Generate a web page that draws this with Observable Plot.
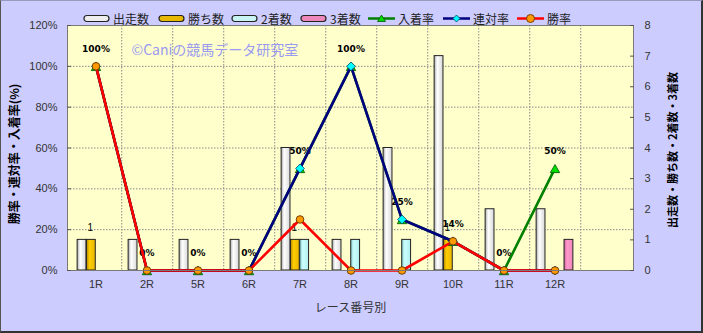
<!DOCTYPE html>
<html><head><meta charset="utf-8">
<script src="https://cdn.jsdelivr.net/npm/d3@7"></script>
<script src="https://cdn.jsdelivr.net/npm/@observablehq/plot@0.6"></script>
<style>
html,body{margin:0;padding:0;background:#ccccff;}
#wrap{position:relative;width:703px;height:333px;background:#ccccff;overflow:hidden;font-family:"Noto Sans CJK JP","Liberation Sans",sans-serif;}
#wrap svg.plot{position:absolute;left:0;top:0;}
#legend{position:absolute;left:0;top:9px;height:18px;width:703px;font-size:12px;color:#222;}
#legend .item{position:absolute;top:0;display:flex;align-items:center;height:18px;}
#legend .item span{margin-left:3px;}
#border{position:absolute;left:0;top:0;width:703px;height:333px;box-sizing:border-box;border-left:1px solid #555;border-top:1px solid #9999bb;border-right:2px solid #333;border-bottom:2px solid #333;pointer-events:none;}
</style></head>
<body>
<div id="wrap"><div id="legend"></div><div id="border"></div></div>
<script>
// ---- data ----
const races = ["1R","2R","5R","6R","7R","8R","9R","10R","11R","12R"];
const starters = [1,1,1,1,4,1,4,7,2,2];      // 出走数
const wins     = [1,0,0,0,1,0,0,1,0,0];      // 勝ち数
const seconds  = [0,0,0,0,1,1,1,0,0,0];      // 2着数
const thirds   = [0,0,0,0,0,0,0,0,0,1];      // 3着数
const placeRate  = [100,0,0,0,50,100,25,14.3,0,50];  // 入着率
const rentaiRate = [100,0,0,0,50,100,25,14.3,0,0];   // 連対率
const winRate    = [100,0,0,0,25,0,0,14.3,0,0];      // 勝率
const leftTicks  = [0,20,40,60,80,100,120];
const rightTicks = [0,1,2,3,4,5,6,7,8];
const barSeries  = ["出走数","勝ち数","2着数","3着数"];
const lineSeries = ["入着率","連対率","勝率"];

// ---- layout ----
const W = 703, H = 333, ML = 67, MR = 70, MT = 25, MB = 63;
const slots = [...races, "_"];
const bw = (W - ML - MR) / slots.length;
const barW = 9.3;
const pad = (bw - 4 * barW) / 2;
const countScale = 120 / 8; // right axis 8 ↔ left axis 120%

const barFills = ["url(#gW)","url(#gY)","url(#gC)","url(#gP)"];
const barCounts = [starters, wins, seconds, thirds];

const rows = races.map((r, i) => ({race: r, place: placeRate[i], rentai: rentaiRate[i], win: winRate[i]}));

const barMarks = barCounts.map((arr, k) =>
  Plot.barY(races.map((r, i) => ({race: r, v: arr[i]})).filter(d => d.v > 0), {
    x: "race", y: d => d.v * countScale,
    insetLeft: pad + k * barW, insetRight: bw - pad - (k + 1) * barW,
    fill: barFills[k], stroke: "#222", strokeWidth: 1
  })
);

const winLabels = races.map((r, i) => ({race: r, v: wins[i]})).filter(d => d.v > 0);

// square diamond symbol (Excel-like)
const squareDiamond = {draw(ctx, size) { const h = Math.sqrt(size / 2); ctx.moveTo(0, -h); ctx.lineTo(h, 0); ctx.lineTo(0, h); ctx.lineTo(-h, 0); ctx.closePath(); }};

const titleFont = "'Noto Sans CJK JP', sans-serif";

const chart = Plot.plot({
  width: W, height: H,
  marginLeft: ML, marginRight: MR, marginTop: MT, marginBottom: MB,
  style: {background: "transparent", fontFamily: "'Liberation Sans', sans-serif", fontSize: "11px", color: "#333", overflow: "visible"},
  x: {type: "band", domain: slots, padding: 0, label: null},
  y: {domain: [0, 120], label: null},
  marks: [
    Plot.frame({fill: "#ffffcc", stroke: "none"}),
    Plot.gridY(leftTicks.filter(t => t > 0 && t < 120), {stroke: "#8a8a8a", strokeOpacity: 1, strokeDasharray: "1.5,1.5"}),
    Plot.ruleX(slots.slice(0, -1), {x: d => d, dx: bw / 2, stroke: "#8a8a8a", strokeDasharray: "1.5,1.5"}),
    Plot.text(["©Caniの競馬データ研究室"], {frameAnchor: "top-left", dx: 64, dy: 20, textAnchor: "start", fill: "#9a9af0", fontSize: 14, fontFamily: titleFont}),
    Plot.text(rows, {x: "race", y: "place", text: d => Math.round(d.place) + "%", dy: -17, fontSize: 9, fontWeight: "bold", fill: "#000", fontFamily: "'DejaVu Sans', sans-serif"}),
    Plot.text(winLabels, {x: "race", y: d => d.v * countScale, text: d => String(d.v), dx: pad + 1.5 * barW - bw / 2 - 1, dy: -12, fontSize: 10, fill: "#000"}),
    ...barMarks,
    Plot.lineY(rows, {x: "race", y: "place", stroke: "#008000", strokeWidth: 2.6}),
    Plot.dot(rows, {x: "race", y: "place", symbol: "triangle", r: 3.5, fill: "#00dd00", stroke: "#005500", strokeWidth: 0.8, dy: 1.5}),
    Plot.lineY(rows, {x: "race", y: "rentai", stroke: "#000080", strokeWidth: 2.6}),
    Plot.dot(rows, {x: "race", y: "rentai", symbol: squareDiamond, r: 3.5, fill: "#00ffff", stroke: "#004466", strokeWidth: 0.8}),
    Plot.lineY(rows, {x: "race", y: "win", stroke: "#ff0000", strokeWidth: 2.6}),
    Plot.dot(rows, {x: "race", y: "win", r: 3.8, fill: "#ff9900", stroke: "#663300", strokeWidth: 0.9}),
    Plot.frame({stroke: "#7a7a7a", strokeWidth: 1}),
    Plot.axisY(leftTicks, {anchor: "left", tickSize: 0, tickPadding: 10, tickFormat: d => d + "%", label: null, fill: "#333"}),
    Plot.axisY(leftTicks, {anchor: "left", tickSize: 4, dx: 4, tickFormat: () => "", label: null, stroke: "#555"}),
    Plot.axisY(rightTicks.map(t => t * countScale), {anchor: "right", tickSize: 0, tickPadding: 11, tickFormat: d => String(d / countScale), label: null, fill: "#333"}),
    Plot.axisY(rightTicks.map(t => t * countScale), {anchor: "right", tickSize: 4, dx: -4, tickFormat: () => "", label: null, stroke: "#555"}),
    Plot.axisX(races, {anchor: "bottom", tickSize: 0, tickPadding: 10, label: null, fill: "#333"}),
    Plot.text(["レース番号別"], {frameAnchor: "bottom", dy: 41, fontSize: 12, fill: "#333", fontFamily: titleFont}),
    Plot.text(["勝率・連対率・入着率(%)"], {frameAnchor: "left", textAnchor: "middle", dx: -52, dy: 6, rotate: -90, fontSize: 12, fontWeight: "bold", fill: "#000", fontFamily: titleFont}),
    Plot.text(["出走数・勝ち数・2着数・3着数"], {frameAnchor: "right", textAnchor: "middle", dx: 40, dy: 2, rotate: -90, fontSize: 11, fontWeight: "bold", fill: "#000", fontFamily: titleFont})
  ]
});

// gradients for the cylinder-like bars
const ns = "http://www.w3.org/2000/svg";
const defs = document.createElementNS(ns, "defs");
const grads = {gW: ["#a8a8a8","#ffffff","#d8d8d8"], gY: ["#b08800","#ffcc00","#e8b800"], gC: ["#88cccc","#ccffff","#b0eeee"], gP: ["#cc6699","#ff99cc","#ee88bb"]};
for (const [id, c] of Object.entries(grads)) {
  const g = document.createElementNS(ns, "linearGradient");
  g.setAttribute("id", id); g.setAttribute("x1", "0"); g.setAttribute("x2", "1"); g.setAttribute("y1", "0"); g.setAttribute("y2", "0");
  [[0, c[0]], [0.35, c[1]], [1, c[2]]].forEach(([o, col]) => {
    const s = document.createElementNS(ns, "stop");
    s.setAttribute("offset", o); s.setAttribute("stop-color", col); g.appendChild(s);
  });
  defs.appendChild(g);
}
chart.insertBefore(defs, chart.firstChild);
chart.classList.add("plot");
const wrap = document.getElementById("wrap");
wrap.insertBefore(chart, wrap.firstChild);

// legend
const legend = document.getElementById("legend");
const legendX = [83, 158, 231, 300, 368, 443, 517];
const barLegendFill = ["#eeeeee", "#e8b800", "#c8f4f4", "#ee88bb"];
const lineLegend = [
  {stroke: "#008000", mk: '<path d="M13.5,4 L17.5,10.5 L9.5,10.5Z" fill="#00dd00" stroke="#005500" stroke-width="0.8"/>'},
  {stroke: "#000080", mk: '<path d="M13.5,4 L17,7.5 L13.5,11 L10,7.5Z" fill="#00ffff" stroke="#004466" stroke-width="0.8"/>'},
  {stroke: "#ff0000", mk: '<circle cx="13.5" cy="7.5" r="4" fill="#ff9900" stroke="#663300" stroke-width="0.9"/>'}
];
barSeries.forEach((name, k) => {
  const el = document.createElement("div"); el.className = "item"; el.style.left = legendX[k] + "px";
  el.innerHTML = `<svg width="27" height="15"><rect x="1" y="4.5" width="25" height="6" rx="3" fill="${barLegendFill[k]}" stroke="#222" stroke-width="1.2"/></svg><span>${name}</span>`;
  legend.appendChild(el);
});
lineSeries.forEach((name, k) => {
  const el = document.createElement("div"); el.className = "item"; el.style.left = legendX[4 + k] + "px";
  el.innerHTML = `<svg width="27" height="15"><line x1="0" x2="27" y1="7.5" y2="7.5" stroke="${lineLegend[k].stroke}" stroke-width="2.5"/>${lineLegend[k].mk}</svg><span>${name}</span>`;
  legend.appendChild(el);
});
</script>
</body></html>
